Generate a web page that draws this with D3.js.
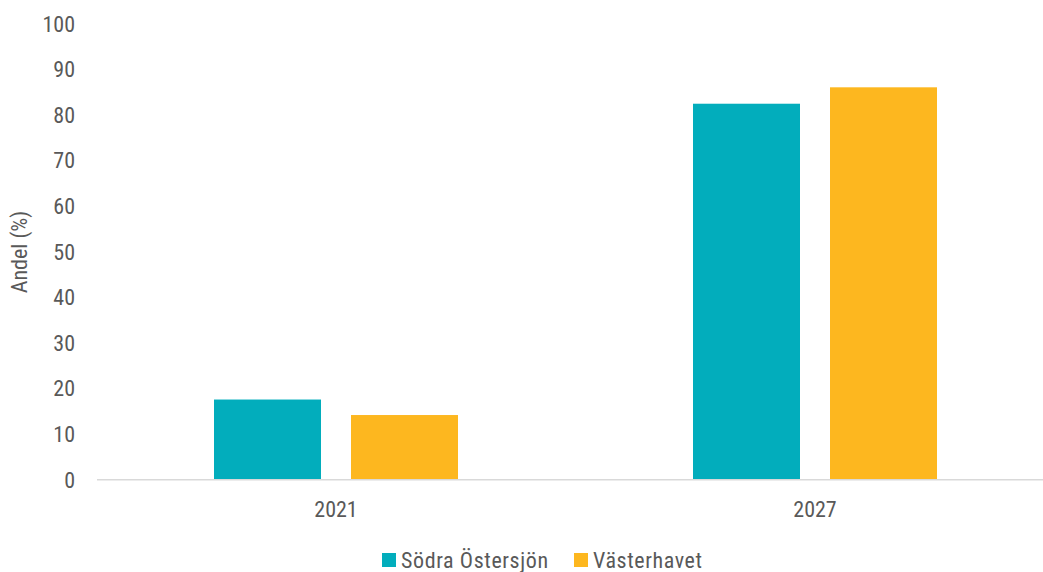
<!DOCTYPE html>
<html>
<head>
<meta charset="utf-8">
<script src="https://cdn.jsdelivr.net/npm/d3@7"></script>
<style>
  html, body { margin: 0; padding: 0; background: #fff; }
  svg { display: block; }
  text { font-family: "Liberation Sans Narrow", "Roboto Condensed", "DejaVu Sans Condensed", sans-serif; fill: #595959; }
</style>
</head>
<body>
<svg id="chart" width="1043" height="572"></svg>
<script>
const categories = ["2021", "2027"];
const seriesNames = ["Södra Östersjön", "Västerhavet"];
const sodraOstersjon = [17.5, 82.4];
const vasterhavet = [14.1, 86.0];
const yTicks = [0, 10, 20, 30, 40, 50, 60, 70, 80, 90, 100];
const colors = ["#02ADBC", "#FDB71F"];
const yTitle = "Andel (%)";

const seriesValues = [sodraOstersjon, vasterhavet];
const svg = d3.select("#chart");

const x0 = d3.scaleBand().domain(categories).range([96.5, 1054.5]).paddingInner(0).paddingOuter(0);
const x1 = d3.scaleBand().domain(seriesNames).range([117.5, 361.5]).paddingInner(0.219).paddingOuter(0);
const y = d3.scaleLinear().domain([0, 100]).range([479.3, 23.5]);

// Y axis labels
const yAxis = d3.axisLeft(y).tickValues(yTicks).tickSize(0).tickPadding(0).tickFormat(d3.format("d"));
const gy = svg.append("g").attr("transform", "translate(75,0)").call(yAxis);
gy.select(".domain").remove();
gy.selectAll("text").style("font-size", "22px").attr("fill", "#595959")
  .style("font-family", null).attr("dy", "0.35em");

// bars
const groups = svg.append("g").selectAll("g").data(categories).join("g")
  .attr("transform", d => `translate(${x0(d)},0)`);
groups.selectAll("rect")
  .data((c, ci) => seriesNames.map((s, si) => ({ s, si, v: seriesValues[si][ci] })))
  .join("rect")
  .attr("x", d => x1(d.s))
  .attr("width", x1.bandwidth())
  .attr("y", d => y(d.v))
  .attr("height", d => y(0) - y(d.v))
  .attr("fill", d => colors[d.si]);

// X axis
const xAxis = d3.axisBottom(x0).tickSize(0).tickPadding(0);
const gx = svg.append("g").attr("transform", `translate(0,${y(0)})`).call(xAxis);
gx.select(".domain").attr("stroke", "#d9d9d9").attr("stroke-width", 1.5);
gx.selectAll("text").style("font-size", "22px").attr("fill", "#595959")
  .style("font-family", null).attr("dy", "0").attr("y", 38);

// Y title
svg.append("text")
  .attr("transform", "translate(27,252) rotate(-90)")
  .attr("text-anchor", "middle")
  .style("font-size", "22px")
  .text(yTitle);

// Legend
const legendItems = [
  { name: seriesNames[0], color: colors[0], x: 382 },
  { name: seriesNames[1], color: colors[1], x: 574 }
];
const lg = svg.append("g");
legendItems.forEach(it => {
  lg.append("rect").attr("x", it.x).attr("y", 553).attr("width", 14).attr("height", 14).attr("fill", it.color);
  lg.append("text").attr("x", it.x + 19).attr("y", 568)
    .style("font-size", "22px").style("letter-spacing", "0.6px").text(it.name);
});
</script>
</body>
</html>
